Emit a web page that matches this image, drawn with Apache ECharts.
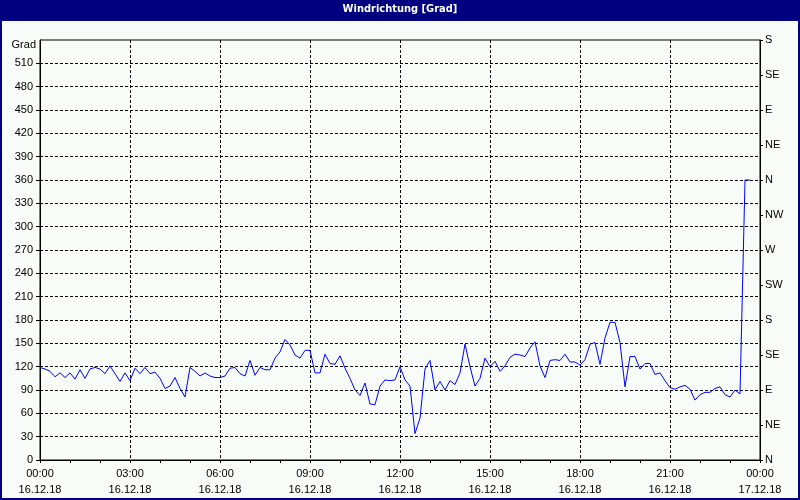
<!DOCTYPE html>
<html>
<head>
<meta charset="utf-8">
<script src="https://cdn.jsdelivr.net/npm/echarts@6/dist/echarts.min.js"></script>
<style>
html,body{margin:0;padding:0;background:#000080;}
#c{width:800px;height:500px;}
</style>
</head>
<body>
<div id="c"></div>
<script>
const title = 'Windrichtung [Grad]';
const yAxisName = 'Grad';
const stepMinutes = 10;
// wind direction, 10-minute samples from 00:00 16.12.18
const direction = [
119,117,114,107,112,106,112,104,116,105,
117,119,117,111,121,111,101,112,102,118,
111,119,111,113,105,92,95,106,92,81,
119,114,108,112,108,106,106,108,118,119,
111,108,128,109,119,116,116,131,139,155,
148,135,131,141,141,112,112,136,124,123,
134,118,105,90,83,99,72,71,95,103,
102,103,120,103,95,34,54,117,128,90,
101,90,102,97,112,149,120,95,105,131,
120,127,114,121,132,136,135,133,144,152,
121,106,128,129,128,136,126,126,122,129,
149,151,123,157,177,177,151,94,133,133,
117,124,124,110,112,102,93,91,94,96,
91,77,84,87,87,92,94,84,81,90,
85,360,360
];
const leftTicks = [0,30,60,90,120,150,180,210,240,270,300,330,360,390,420,450,480,510];
const rightTicks = [0,45,90,135,180,225,270,315,360,405,450,495,540];
const rightLabels = ['N','NE','E','SE','S','SW','W','NW','N','NE','E','SE','S'];
const xTimes = ['00:00','03:00','06:00','09:00','12:00','15:00','18:00','21:00','00:00'];
const xDates = ['16.12.18','16.12.18','16.12.18','16.12.18','16.12.18','16.12.18','16.12.18','16.12.18','17.12.18'];

const seriesData = direction.map((v, i) => [i * stepMinutes / 60, v]);
const FONT = 'Liberation Sans';
const dash = {color:'#000', width:1, type:[3,2]};

const chart = echarts.init(document.getElementById('c'), null, {renderer:'canvas'});
chart.setOption({
  animation:false,
  backgroundColor:'#000080',
  graphic:[
    {type:'rect', z:-10, shape:{x:2,y:21,width:796,height:477}, style:{fill:'#F8FCF8'}},
    {type:'text', left:'center', top:4, style:{text:title, fill:'#fff', font:'bold 11px "DejaVu Sans Condensed", "Liberation Sans"'}},
    {type:'text', x:36, y:45, style:{text:yAxisName, fill:'#000', font:'11px ' + FONT, align:'right', verticalAlign:'middle'}}
  ],
  grid:{left:40, top:40, width:720, height:420, show:true, borderColor:'#000', borderWidth:1, backgroundColor:'transparent'},
  xAxis:{
    type:'value', min:0, max:24, interval:3,
    axisLine:{show:true, lineStyle:{color:'#000', width:1}},
    axisTick:{show:true, length:3, lineStyle:{color:'#000'}},
    minorTick:{show:true, splitNumber:3, length:3, lineStyle:{color:'#000'}},
    splitLine:{show:true, lineStyle:dash},
    axisLabel:{color:'#000', fontFamily:FONT, fontSize:11, lineHeight:16, margin:6,
      formatter:function(v){const k=Math.round(v/3); return xTimes[k] + '\n' + xDates[k];}}
  },
  yAxis:[
    {
      type:'value', min:0, max:540, interval:30, position:'left',
      axisLine:{show:true, lineStyle:{color:'#000'}},
      axisTick:{show:true, length:4, customValues:leftTicks, lineStyle:{color:'#000'}},
      splitLine:{show:true, lineStyle:dash},
      axisLabel:{color:'#000', fontFamily:FONT, fontSize:11, margin:7, customValues:leftTicks}
    },
    {
      type:'value', min:0, max:540, interval:45, position:'right',
      axisLine:{show:true, lineStyle:{color:'#000'}},
      axisTick:{show:true, length:3, lineStyle:{color:'#000'}},
      splitLine:{show:false},
      axisLabel:{color:'#000', fontFamily:FONT, fontSize:11, margin:5,
        formatter:function(v){return rightLabels[Math.round(v/45)];}}
    }
  ],
  series:[{
    type:'line', data:seriesData, yAxisIndex:0, showSymbol:false, symbol:'none',
    lineStyle:{color:'#0000FF', width:1}, z:5
  }]
});
</script>
</body>
</html>
